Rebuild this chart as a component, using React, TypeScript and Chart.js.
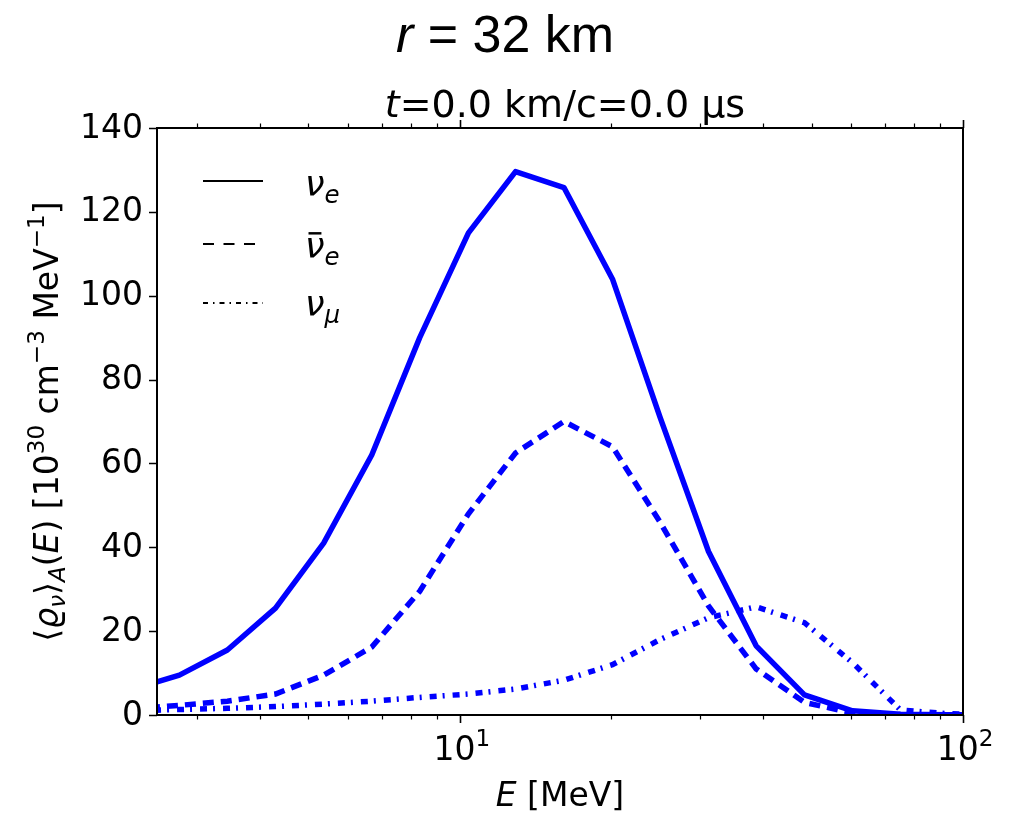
import React, { useEffect, useRef } from "react";
import { Chart, registerables } from "chart.js";

Chart.register(...registerables);

// Energy grid [MeV]
const energies = [2.22, 2.77, 3.45, 4.3, 5.36, 6.68, 8.32, 10.4, 12.9, 16.1, 20.1, 25.0, 31.2, 38.8, 48.4, 60.3, 75.1, 93.6, 116.6];
// <rho_nu>_A(E) [1e30 cm^-3 MeV^-1]
const nuE = [6.0, 9.5, 15.5, 25.5, 41, 62, 90, 115, 129.6, 125.8, 104, 71, 39, 16.5, 4.8, 1.0, 0.2, 0.05, 0.01];
const nuEbar = [1.5, 2.3, 3.3, 5.0, 9.5, 16.2, 29.5, 48, 62.5, 70, 64, 46, 26, 11, 3, 0.5, 0.1, 0.02, 0];
const nuMu = [1.0, 1.3, 1.6, 2.0, 2.6, 3.3, 4.2, 5.0, 6.2, 8.3, 12, 18, 23.2, 25.8, 22, 12.5, 1.2, 0.3, 0.05];

const yTicks = [0, 20, 40, 60, 80, 100, 120, 140];
const xMajor = [10, 100];
const xMinor = [3, 4, 5, 6, 7, 8, 9, 20, 30, 40, 50, 60, 70, 80, 90];

const FONT = "'DejaVu Sans', sans-serif";

type Seg = { t: string; it?: boolean; s?: number; dy?: number; bar?: boolean };

function drawRich(
  ctx: CanvasRenderingContext2D,
  segs: Seg[],
  x: number,
  y: number,
  size: number,
  family: string,
  align: "left" | "center" | "right",
  weight = "normal"
) {
  const widths = segs.map((sg) => {
    ctx.font = `${sg.it ? "italic " : ""}${weight} ${size * (sg.s ?? 1)}px ${family}`;
    return ctx.measureText(sg.t).width;
  });
  const total = widths.reduce((a, b) => a + b, 0);
  let cx = align === "left" ? x : align === "center" ? x - total / 2 : x - total;
  ctx.textBaseline = "alphabetic";
  ctx.textAlign = "left";
  segs.forEach((sg, i) => {
    const fs = size * (sg.s ?? 1);
    ctx.font = `${sg.it ? "italic " : ""}${weight} ${fs}px ${family}`;
    const yy = y - (sg.dy ?? 0) * size;
    ctx.fillText(sg.t, cx, yy);
    if (sg.bar) {
      ctx.fillRect(cx + widths[i] * 0.18, yy - fs * 0.74, widths[i] * 0.66, fs * 0.07);
    }
    cx += widths[i];
  });
}

const decorPlugin = {
  id: "decor",
  afterDatasetsDraw(chart: any) {
    const ctx: CanvasRenderingContext2D = chart.ctx;
    const { left, right, top, bottom } = chart.chartArea;
    const xs = chart.scales.x;
    const ys = chart.scales.y;
    ctx.save();
    ctx.fillStyle = "#000";
    ctx.strokeStyle = "#000";
    // frame
    ctx.lineWidth = 2;
    ctx.strokeRect(left, top, right - left, bottom - top);
    // y ticks
    ctx.lineWidth = 1.6;
    ctx.beginPath();
    yTicks.forEach((v) => {
      const py = Math.round(ys.getPixelForValue(v)) + 0.5;
      ctx.moveTo(left, py);
      ctx.lineTo(left - 8, py);
    });
    xMajor.forEach((v) => {
      const px = Math.round(xs.getPixelForValue(v)) + 0.5;
      ctx.moveTo(px, bottom);
      ctx.lineTo(px, bottom + 8);
      ctx.moveTo(px, top);
      ctx.lineTo(px, top - 8);
    });
    ctx.stroke();
    ctx.lineWidth = 1.2;
    ctx.beginPath();
    xMinor.forEach((v) => {
      const px = Math.round(xs.getPixelForValue(v)) + 0.5;
      ctx.moveTo(px, bottom);
      ctx.lineTo(px, bottom + 4.5);
      ctx.moveTo(px, top);
      ctx.lineTo(px, top - 4.5);
    });
    ctx.stroke();

    // y tick labels
    ctx.font = `33px ${FONT}`;
    ctx.textAlign = "right";
    ctx.textBaseline = "middle";
    yTicks.forEach((v) => {
      ctx.fillText(String(v), left - 14, ys.getPixelForValue(v) + 1);
    });
    // x tick labels
    xMajor.forEach((v) => {
      const px = xs.getPixelForValue(v);
      const ex = Math.round(Math.log10(v));
      drawRich(ctx, [{ t: "10" }, { t: String(ex), s: 0.7, dy: 0.42 }], px + 2, 760, 33, FONT, "center");
    });
    // x label
    drawRich(ctx, [{ t: "E", it: true }, { t: " [MeV]" }], (left + right) / 2, 806, 33, FONT, "center");
    // y label
    ctx.save();
    ctx.translate(58, (top + bottom) / 2);
    ctx.rotate(-Math.PI / 2);
    drawRich(
      ctx,
      [
        { t: "\u27e8" },
        { t: "\u03f1", it: true },
        { t: "\u03bd", it: true, s: 0.7, dy: -0.2 },
        { t: "\u27e9" },
        { t: "A", it: true, s: 0.7, dy: -0.2 },
        { t: "(" },
        { t: "E", it: true },
        { t: ") [10" },
        { t: "30", s: 0.7, dy: 0.42 },
        { t: " cm" },
        { t: "\u22123", s: 0.7, dy: 0.42 },
        { t: " MeV" },
        { t: "\u22121", s: 0.7, dy: 0.42 },
        { t: "]" },
      ],
      0,
      0,
      33,
      FONT,
      "center"
    );
    ctx.restore();
    // plot title
    drawRich(
      ctx,
      [{ t: "t", it: true }, { t: "=0.0 km/c=0.0 \u03bcs" }],
      (left + right) / 2 + 5,
      117,
      38,
      FONT,
      "center"
    );
    // figure title
    drawRich(
      ctx,
      [{ t: "r", it: true }, { t: " = 32 km" }],
      505,
      52,
      52,
      "'Liberation Sans', Roboto, sans-serif",
      "center",
      "300"
    );

    // legend
    const lx0 = 203;
    const lx1 = 263;
    const rows = [
      { y: 181, dash: [] as number[], label: [{ t: "\u03bd", it: true }, { t: "e", it: true, s: 0.7, dy: -0.2 }] as Seg[], by: 196 },
      { y: 244, dash: [11, 9.5], label: [{ t: "\u03bd", it: true, bar: true }, { t: "e", it: true, s: 0.7, dy: -0.2 }] as Seg[], by: 258 },
      { y: 303, dash: [5, 5, 1.5, 5], label: [{ t: "\u03bd", it: true }, { t: "\u03bc", it: true, s: 0.7, dy: -0.2 }] as Seg[], by: 316 },
    ];
    rows.forEach((r) => {
      ctx.beginPath();
      ctx.lineWidth = 2;
      ctx.setLineDash(r.dash);
      ctx.moveTo(lx0, r.y);
      ctx.lineTo(lx1, r.y);
      ctx.stroke();
      ctx.setLineDash([]);
      drawRich(ctx, r.label, 305, r.by, 35, FONT, "left");
    });
    ctx.restore();
  },
};

export default function App() {
  const ref = useRef<HTMLCanvasElement | null>(null);
  useEffect(() => {
    if (!ref.current) return;
    const mk = (vals: number[]) => energies.map((e, i) => ({ x: e, y: vals[i] }));
    const chart = new Chart(ref.current, {
      type: "line",
      data: {
        datasets: [
          {
            label: "nu_e",
            data: mk(nuE),
            borderColor: "#0000ff",
            borderWidth: 5.5,
            pointRadius: 0,
            borderJoinStyle: "round",
            borderCapStyle: "butt",
            order: 3,
          },
          {
            label: "nu_e_bar",
            data: mk(nuEbar),
            borderColor: "#0000ff",
            borderWidth: 5.5,
            pointRadius: 0,
            borderDash: [11, 7],
            borderCapStyle: "butt",
            order: 2,
          },
          {
            label: "nu_mu",
            data: mk(nuMu),
            borderColor: "#0000ff",
            borderWidth: 5.5,
            pointRadius: 0,
            borderDash: [7, 6, 2, 8],
            borderCapStyle: "butt",
            order: 1,
          },
        ],
      },
      options: {
        responsive: false,
        animation: false,
        devicePixelRatio: 1,
        layout: { padding: { left: 0, top: 128, right: 57, bottom: 0 } },
        plugins: { legend: { display: false }, tooltip: { enabled: false }, title: { display: false } },
        scales: {
          x: {
            type: "logarithmic",
            min: 2.5,
            max: 100,
            ticks: { display: false },
            grid: { display: false },
            border: { display: false },
            afterFit: (s: any) => {
              s.height = 98;
            },
          },
          y: {
            type: "linear",
            min: 0,
            max: 140,
            ticks: { display: false },
            grid: { display: false },
            border: { display: false },
            afterFit: (s: any) => {
              s.width = 157;
            },
          },
        },
      } as any,
      plugins: [decorPlugin],
    });
    return () => chart.destroy();
  }, []);
  return (
    <div style={{ position: "absolute", left: 0, top: 0, width: 1020, height: 813, background: "#fff" }}>
      <canvas ref={ref} width={1020} height={813} style={{ display: "block" }} />
    </div>
  );
}
